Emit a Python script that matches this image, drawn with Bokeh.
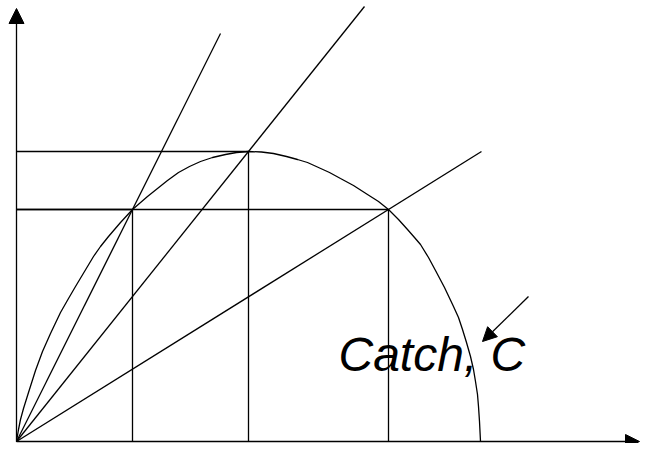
from bokeh.plotting import figure
from bokeh.models import Arrow, NormalHead, Range1d
from bokeh.core.properties import value
from bokeh.embed import file_html
from bokeh.resources import INLINE

# Catch curve (effort on x, catch on y)
curve_x = [0, 2, 4, 7, 12, 19, 26, 34, 44, 52, 59, 68, 77, 84, 92, 104, 116, 131, 141, 151,
           162, 173, 184, 196, 209, 220, 232, 245, 257, 270, 281, 291, 302, 313, 324, 337,
           351, 362, 372, 382, 391, 398, 404, 412, 419, 428, 437, 442, 446, 450, 454, 457,
           459, 461, 462, 463, 464]
curve_y = [0, 12, 22, 33, 49, 71, 90, 108, 129, 143, 155, 170, 185, 195, 205, 219, 232, 245,
           253, 261, 269, 275, 280, 284, 287, 289, 290, 289.5, 288, 285, 282, 279, 274, 269,
           263, 256, 247, 240, 232, 222, 212, 204, 197, 184, 171, 154, 135, 124, 112, 99, 85,
           72, 60, 47, 35, 20, 0]

# marked points on the curve
point_x = [116, 232, 372]
point_y = [232, 290, 232]

# where the rays from the origin end
ray_end_x = [204, 348, 465]

# axis extents
axis_x_max = 623
axis_y_max = 433

# label and its pointer
label_text = ["Catch, C"]
label_x = [322]
label_y = [87]
pointer_start = (512, 145)
pointer_end = (466, 100)

p = figure(width=640, height=443, output_backend="svg", toolbar_location=None,
           x_range=Range1d(-16, 624), y_range=Range1d(-2, 441), min_border=0)
p.axis.visible = False
p.grid.visible = False
p.outline_line_color = None
p.background_fill_color = "white"

lw = 1.3
col = "black"

# curve
p.line(curve_x, curve_y, line_color=col, line_width=lw)

# horizontal lines from the y axis to the points
p.segment(x0=[0] * len(point_x), y0=point_y, x1=point_x, y1=point_y, line_color=col, line_width=lw)
# vertical lines from the points down to the x axis
p.segment(x0=point_x, y0=[0] * len(point_x), x1=point_x, y1=point_y, line_color=col, line_width=lw)

# rays from the origin through the points
ray_end_y = [ex * py / px for ex, px, py in zip(ray_end_x, point_x, point_y)]
p.segment(x0=[0] * 3, y0=[0] * 3, x1=ray_end_x, y1=ray_end_y, line_color=col, line_width=lw)

# axes with arrows
p.add_layout(Arrow(end=NormalHead(size=15, fill_color=col, line_color=col),
                   x_start=0, y_start=0, x_end=0, y_end=axis_y_max,
                   line_color=col, line_width=lw))
p.add_layout(Arrow(end=NormalHead(size=14, fill_color=col, line_color=col),
                   x_start=0, y_start=0, x_end=axis_x_max, y_end=0,
                   line_color=col, line_width=lw))

# label
p.text(x=label_x, y=label_y, text=label_text, text_font=value("Liberation Sans"),
       text_font_style="italic", text_font_size="48px", text_baseline="alphabetic",
       text_align="left", text_color=col)

# pointer arrow
p.add_layout(Arrow(end=NormalHead(size=14, fill_color=col, line_color=col),
                   x_start=pointer_start[0], y_start=pointer_start[1],
                   x_end=pointer_end[0], y_end=pointer_end[1],
                   line_color=col, line_width=lw))

open("out.html", "w").write(file_html(p, INLINE))
